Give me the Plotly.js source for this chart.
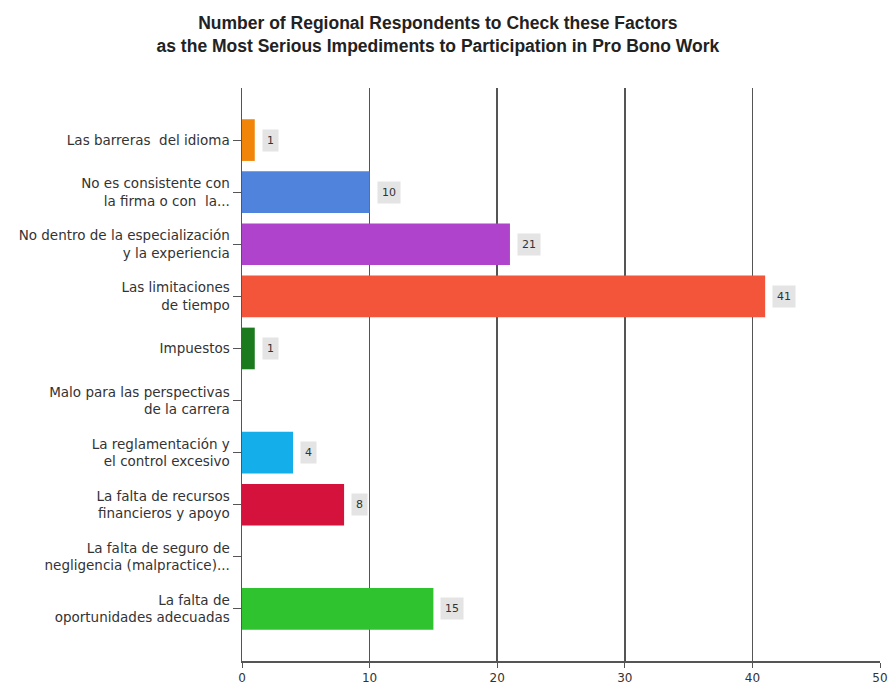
<!DOCTYPE html>
<html><head><meta charset="utf-8">
<script src="https://cdn.plot.ly/plotly-3.0.1.min.js"></script>
<style>html,body{margin:0;padding:0;background:#fff}#chart{width:890px;height:685px}</style>
</head><body><div id="chart"></div>
<script>
const categories = [
  "Las barreras  del idioma",
  "No es consistente con<br>la firma o con  la...",
  "No dentro de la especialización<br>y la experiencia",
  "Las limitaciones<br>de tiempo",
  "Impuestos",
  "Malo para las perspectivas<br>de la carrera",
  "La reglamentación y<br>el control excesivo",
  "La falta de recursos<br>financieros y apoyo",
  "La falta de seguro de<br>negligencia (malpractice)...",
  "La falta de<br>oportunidades adecuadas"
];
const values = [1, 10, 21, 41, 1, 0, 4, 8, 0, 15];
const colors = ["#f0850a", "#4f83dc", "#b043cc", "#f2553a", "#1b7a1e", "#999999", "#14aeea", "#d4123c", "#999999", "#2fc42f"];
const labelShown = [true, true, true, true, true, false, true, true, false, true];

const idx = categories.map((_, i) => i);
const trace = {
  type: 'bar', orientation: 'h',
  x: values, y: idx,
  width: 0.8,
  marker: { color: colors, line: { width: 0 } },
  hoverinfo: 'x'
};
const annotations = [];
values.forEach((v, i) => {
  if (!labelShown[i]) return;
  annotations.push({
    x: v, y: i, xref: 'x', yref: 'y',
    text: String(v), showarrow: false,
    xanchor: 'left', xshift: 7,
    bgcolor: '#e4e4e4', borderpad: 4,
    font: { family: 'DejaVu Sans, sans-serif', size: 11, color: '#333' }
  });
});
const layout = {
  width: 890, height: 685,
  margin: { l: 242, r: 10, t: 88, b: 24 },
  paper_bgcolor: '#fff', plot_bgcolor: '#fff',
  title: {
    text: '<b>Number of Regional Respondents to Check these Factors<br>as the Most Serious Impediments to Participation in Pro Bono Work</b>',
    x: 0.492, xanchor: 'center', yref: 'container', y: 0.958, yanchor: 'middle',
    font: { family: 'Liberation Sans, Arial, sans-serif', size: 17.5, color: '#222' }
  },
  xaxis: {
    range: [0, 50], tickvals: [0, 10, 20, 30, 40, 50],
    showgrid: true, gridcolor: '#555', gridwidth: 1.5,
    showline: true, linecolor: '#555', linewidth: 1.5,
    ticks: 'outside', ticklen: 5, tickcolor: '#555',
    tickfont: { family: 'DejaVu Sans, sans-serif', size: 12, color: '#333' },
    zeroline: false, fixedrange: true
  },
  yaxis: {
    range: [10, -1],
    tickvals: idx, ticktext: categories,
    showline: true, linecolor: '#555', linewidth: 1.5,
    ticks: 'outside', ticklen: 8, tickcolor: '#555',
    showgrid: false, zeroline: false,
    tickfont: { family: 'DejaVu Sans, sans-serif', size: 13.5, color: '#333' }
  },
  annotations: annotations,
  showlegend: false,
  bargap: 0.2
};
Plotly.newPlot('chart', [trace], layout, { displayModeBar: false, staticPlot: true });
</script>
</body></html>
